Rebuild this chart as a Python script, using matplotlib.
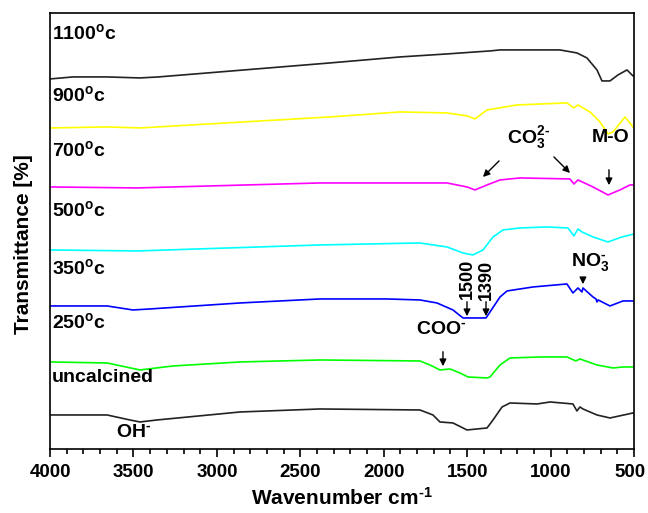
import matplotlib
matplotlib.use('Agg')
import matplotlib.pyplot as plt
import matplotlib.transforms as mtransforms
import numpy as np

plt.rcParams['font.family'] = ['Liberation Sans', 'DejaVu Sans']
plt.rcParams['font.weight'] = 'bold'
plt.rcParams['mathtext.fontset'] = 'custom'
plt.rcParams['mathtext.rm'] = 'Liberation Sans:bold'
plt.rcParams['mathtext.it'] = 'Liberation Sans:bold'
plt.rcParams['mathtext.bf'] = 'Liberation Sans:bold'
plt.rcParams['mathtext.default'] = 'rm'

HY = '\u2010'  # short hyphen for charge signs

# spectra: wavenumber (cm-1) and transmittance (arbitrary, stacked)
wn_1100 = [4000, 3862, 3658, 3461, 3350, 2322, 1902, 1621, 1363, 1303, 944, 842, 782, 722, 692, 644, 596, 542, 506, 500]
t_1100 = [370, 372, 372, 371, 372, 386, 392, 395, 398, 399, 399, 396, 391, 379, 368, 368, 374, 379, 373, 373]

wn_900 = [4000, 3658, 3461, 2322, 1902, 1621, 1500, 1453, 1381, 1201, 902, 860, 836, 764, 704, 656, 626, 554, 506, 500]
t_900 = [321, 322, 321, 332, 337, 336, 333, 330, 339, 344, 346, 341, 344, 337, 327, 315, 317, 332, 322, 321]

wn_700 = [4000, 3479, 2382, 1621, 1501, 1453, 1381, 1303, 1183, 884, 860, 836, 746, 656, 584, 524, 500]
t_700 = [262, 261, 266, 266, 262, 259, 264, 269, 271, 270, 265, 269, 262, 254, 259, 264, 264]

wn_500 = [4000, 3479, 2382, 1783, 1621, 1525, 1465, 1405, 1345, 1285, 1183, 1021, 896, 860, 836, 812, 746, 656, 572, 500]
t_500 = [199, 198, 204, 206, 202, 196, 194, 199, 212, 219, 221, 222, 221, 213, 220, 217, 212, 207, 212, 215]

wn_350 = [4000, 3658, 3503, 3401, 2861, 2382, 1980, 1783, 1681, 1585, 1525, 1441, 1387, 1303, 1261, 1105, 902, 866, 836, 812, 806, 746, 728, 722, 715, 644, 566, 500]
t_350 = [143, 143, 139, 140, 146, 150, 150, 149, 146, 139, 131, 131, 131, 152, 158, 162, 165, 156, 161, 157, 161, 152, 150, 147, 149, 143, 148, 148]

wn_250 = [4000, 3658, 3461, 3263, 2861, 2382, 1783, 1723, 1663, 1603, 1543, 1495, 1381, 1363, 1303, 1243, 1063, 902, 848, 824, 722, 626, 566, 500]
t_250 = [87, 86, 79, 83, 87, 89, 88, 84, 79, 80, 76, 72, 71, 72, 84, 91, 92, 92, 88, 90, 84, 81, 82, 82]

wn_unc = [4000, 3658, 3521, 3461, 3359, 2861, 2382, 1783, 1705, 1663, 1585, 1501, 1381, 1345, 1291, 1243, 1081, 1003, 866, 842, 824, 806, 722, 644, 506, 500]
t_unc = [34, 34, 29, 27, 29, 37, 40, 39, 34, 27, 26, 19, 21, 29, 42, 46, 45, 47, 45, 38, 42, 40, 34, 31, 36, 36]

series = [
    (wn_1100, t_1100, '#222222', '1100$^{o}$c', 416),
    (wn_900, t_900, '#ffff00', '900$^{o}$c', 354),
    (wn_700, t_700, '#ff00ff', '700$^{o}$c', 299),
    (wn_500, t_500, '#00ffff', '500$^{o}$c', 239),
    (wn_350, t_350, '#0000ff', '350$^{o}$c', 181),
    (wn_250, t_250, '#00ff00', '250$^{o}$c', 127),
    (wn_unc, t_unc, '#222222', 'uncalcined', 71),
]

fig = plt.figure(figsize=(6.48, 5.13), dpi=100)
ax = fig.add_axes([0.0772, 0.1248, 0.9012, 0.85])

for wn, t, col, lab, ly in series:
    ax.plot(wn, t, color=col, lw=1.2)
    ax.text(3990, ly, lab, fontsize=14, fontweight='bold', va='center', ha='left')

ax.set_xlim(4000, 500)
ax.set_ylim(0, 436)
ax.set_yticks([])
ax.set_xticks(np.arange(4000, 499, -500))
ax.set_xticks(np.arange(4000, 499, -100), minor=True)
ax.tick_params(axis='x', which='major', direction='out', length=6, width=1.2, labelsize=13.5, pad=5)
ax.tick_params(axis='x', which='minor', direction='out', length=3.5, width=1.2)
for s in ax.spines.values():
    s.set_linewidth(1.2)

# keep the last tick label inside the canvas
last = ax.xaxis.get_major_ticks()[-1].label1
last.set_transform(last.get_transform() + mtransforms.ScaledTranslation(-0.04, 0, fig.dpi_scale_trans))

ax.set_xlabel('Wavenumber cm$^{' + HY + '1}$', fontsize=15, fontweight='bold', labelpad=4)
ax.set_ylabel('Transmittance [%]', fontsize=15, fontweight='bold')
ax.yaxis.set_label_coords(-0.029, 0.47)

# band annotations
akw = dict(arrowstyle='-|>', color='black', lw=1.0, mutation_scale=10)
ax.text(1135, 311, 'CO$_3^{2' + HY + '}$', fontsize=14, ha='center', va='center')
ax.annotate('', xy=(1417, 270), xytext=(1297, 290), arrowprops=akw)
ax.annotate('', xy=(872, 274), xytext=(992, 294), arrowprops=akw)

ax.text(638, 311, 'M-O', fontsize=14, ha='center', va='center')
ax.annotate('', xy=(650, 261), xytext=(650, 282), arrowprops=akw)

ax.text(764, 187, 'NO$_3^{' + HY + '}$', fontsize=14, ha='center', va='center')
ax.annotate('', xy=(806, 162), xytext=(806, 171), arrowprops=akw)

ax.text(1501, 170, '1500', fontsize=13, rotation=90, ha='center', va='center')
ax.annotate('', xy=(1501, 130), xytext=(1501, 150), arrowprops=akw)
ax.text(1387, 169, '1390', fontsize=13, rotation=90, ha='center', va='center')
ax.annotate('', xy=(1387, 130), xytext=(1387, 150), arrowprops=akw)

ax.text(1657, 119, 'COO$^{' + HY + '}$', fontsize=14, ha='center', va='center')
ax.annotate('', xy=(1645, 80), xytext=(1645, 100), arrowprops=akw)

ax.text(3497, 16, 'OH$^{' + HY + '}$', fontsize=14, ha='center', va='center')

fig.savefig('out.png', dpi=100)
